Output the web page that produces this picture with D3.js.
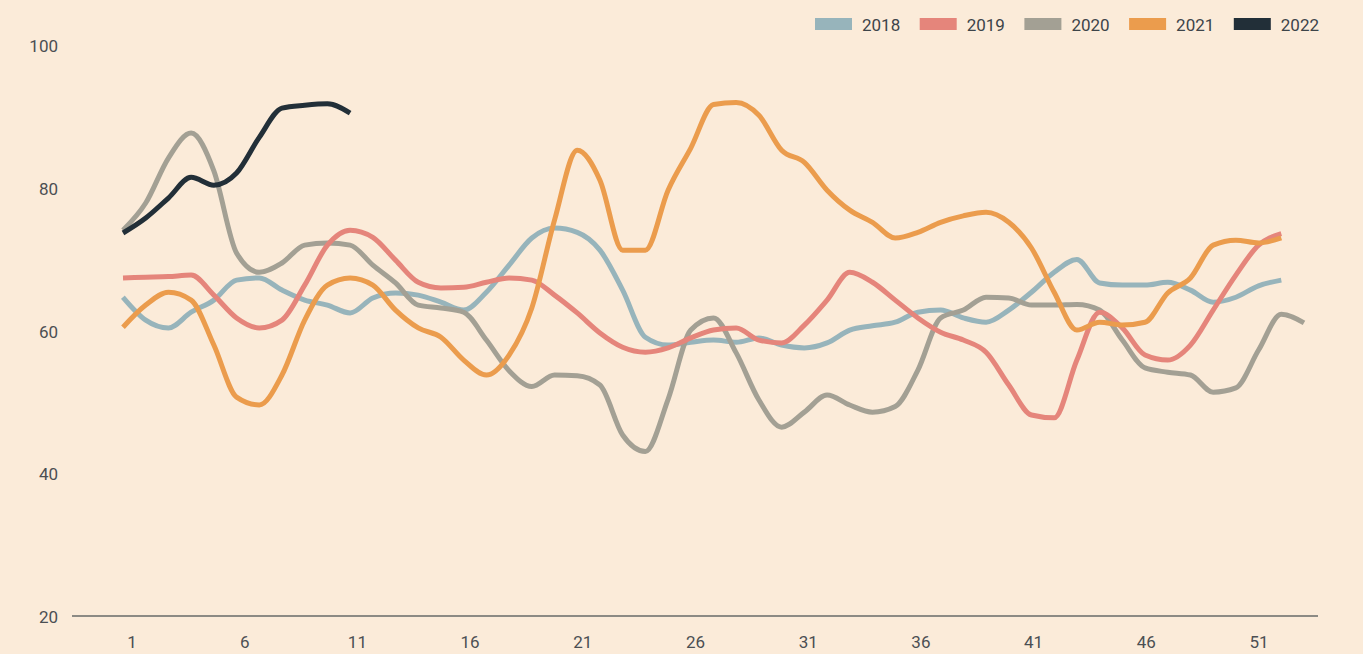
<!DOCTYPE html>
<html>
<head>
<meta charset="utf-8">
<script src="https://cdn.jsdelivr.net/npm/d3@7"></script>
<style>
  html, body { margin: 0; padding: 0; background: #fbebd9; }
  svg { display: block; }
  text { font-family: Roboto, "DejaVu Sans", sans-serif; }
</style>
</head>
<body>
<svg id="chart" width="1363" height="654"></svg>
<script>
// Weekly index values per year
const years = ["2018", "2019", "2020", "2021", "2022"];
const colors = ["#97b4bb", "#e5857b", "#a3a094", "#eb9c4d", "#222f38"];

const values2018 = [64.8, 61.6, 60.5, 62.7, 64.4, 67.2, 67.5, 65.8, 64.4, 63.7,
  62.6, 64.7, 65.4, 65.1, 64.1, 63.0, 65.5, 69.3, 73.1, 74.5,
  73.9, 71.4, 65.8, 59.2, 58.1, 58.5, 58.8, 58.5, 59.1, 58.1,
  57.7, 58.4, 60.2, 60.8, 61.3, 62.7, 63.0, 61.9, 61.3, 63.0,
  65.5, 68.3, 70.1, 66.8, 66.5, 66.5, 66.9, 65.8, 64.1, 64.8,
  66.4, 67.2];
const values2019 = [67.5, 67.6, 67.7, 67.9, 65.1, 61.9, 60.5, 61.6, 66.5, 72.1,
  74.2, 73.2, 70.0, 66.9, 66.1, 66.2, 66.9, 67.5, 67.2, 65.1,
  62.6, 59.8, 57.8, 57.1, 57.7, 59.1, 60.2, 60.5, 58.8, 58.4,
  60.9, 64.4, 68.3, 66.9, 64.4, 61.9, 59.9, 58.8, 57.1, 52.5,
  48.3, 47.9, 56.0, 62.7, 60.5, 56.7, 56.0, 58.1, 63.0, 67.9,
  72.1, 73.7];
const values2020 = [74.2, 78.0, 84.3, 87.8, 82.5, 71.0, 68.3, 69.6, 72.1, 72.4,
  72.1, 69.3, 66.8, 63.7, 63.3, 62.7, 58.8, 54.5, 52.3, 53.9,
  53.8, 52.5, 45.5, 43.2, 50.5, 60.2, 61.9, 57.0, 50.4, 46.6,
  48.7, 51.1, 49.7, 48.7, 49.5, 54.6, 61.9, 63.0, 64.8, 64.7,
  63.7, 63.7, 63.8, 63.0, 58.8, 54.9, 54.3, 53.9, 51.5, 52.1,
  57.4, 62.4, 61.2];
const values2021 = [60.6, 63.7, 65.5, 64.4, 58.1, 50.8, 49.7, 53.9, 61.6, 66.5,
  67.5, 66.5, 63.0, 60.5, 59.2, 56.0, 53.9, 56.7, 63.3, 75.6,
  85.4, 81.2, 71.4, 71.4, 79.8, 85.7, 91.8, 92.1, 90.3, 85.4,
  83.7, 79.8, 77.0, 75.3, 73.1, 73.9, 75.3, 76.2, 76.7, 75.3,
  71.7, 65.5, 60.2, 61.3, 60.9, 61.3, 65.4, 67.5, 72.1, 72.8,
  72.4, 73.1];
const values2022 = [73.8, 75.9, 78.7, 81.6, 80.5, 82.2, 87.2, 91.3, 91.7, 91.9, 90.6];

const xTicks = [1, 6, 11, 16, 21, 26, 31, 36, 41, 46, 51];
const yTicks = [20, 40, 60, 80, 100];

const seriesValues = [values2018, values2019, values2020, values2021, values2022];
const series = years.map((y, i) => ({
  year: y,
  color: colors[i],
  points: seriesValues[i].map((v, k) => ({ week: k + 1, value: v }))
}));

const svg = d3.select("#chart");
const x = d3.scaleLinear().domain([1, 53]).range([123, 1304]);
// week labels sit on their own slightly offset grid
const xLabel = d3.scaleLinear().domain([1, 51]).range([132, 1259]);
const y = d3.scaleLinear().domain([20, 100]).range([617, 46]);

// Baseline
svg.append("line")
  .attr("x1", 72).attr("x2", 1318)
  .attr("y1", 616).attr("y2", 616)
  .attr("stroke", "#1f2a30").attr("stroke-width", 1.2);

// Y tick labels
svg.append("g").selectAll("text").data(yTicks).join("text")
  .attr("x", 58).attr("y", d => y(d))
  .attr("text-anchor", "end").attr("dominant-baseline", "central")
  .attr("font-size", 17).attr("fill", "#4b4f53")
  .text(d => d);

// X tick labels
svg.append("g").selectAll("text").data(xTicks).join("text")
  .attr("x", d => xLabel(d)).attr("y", 642)
  .attr("text-anchor", "middle").attr("dominant-baseline", "central")
  .attr("font-size", 17).attr("fill", "#4b4f53")
  .text(d => d);

// Lines
const line = d3.line()
  .x(d => x(d.week)).y(d => y(d.value))
  .curve(d3.curveMonotoneX);

const drawOrder = [0, 2, 1, 3, 4];
svg.append("g").selectAll("path").data(drawOrder.map(i => series[i])).join("path")
  .attr("d", d => line(d.points))
  .attr("fill", "none")
  .attr("stroke", d => d.color)
  .attr("stroke-width", 5)
  .attr("stroke-linejoin", "round");

// Legend
const legend = svg.append("g").selectAll("g").data(series).join("g")
  .attr("transform", (d, i) => `translate(${815 + i * 104.7},18)`);
legend.append("rect")
  .attr("width", 37).attr("height", 12)
  .attr("fill", d => d.color);
legend.append("text")
  .attr("x", 47).attr("y", 6.5)
  .attr("dominant-baseline", "central")
  .attr("font-size", 17).attr("fill", "#3d4449")
  .text(d => d.year);
</script>
</body>
</html>
